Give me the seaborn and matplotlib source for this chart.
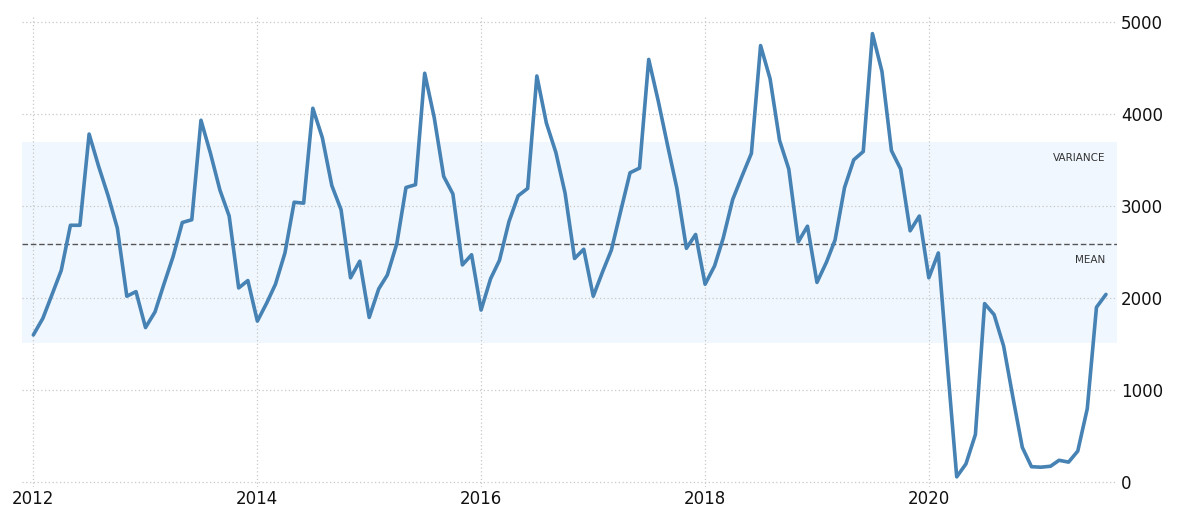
import matplotlib
matplotlib.use("Agg")
import matplotlib.pyplot as plt
import matplotlib.dates as mdates
import pandas as pd
import seaborn as sns

# monthly values, Jan 2012 .. Aug 2021
values_2012 = [1600, 1780, 2030, 2300, 2790, 2790, 3780, 3430, 3110, 2760, 2020, 2070]
values_2013 = [1680, 1850, 2140, 2450, 2820, 2850, 3930, 3570, 3170, 2890, 2110, 2190]
values_2014 = [1750, 1950, 2150, 2490, 3040, 3030, 4060, 3740, 3220, 2960, 2220, 2400]
values_2015 = [1790, 2100, 2250, 2590, 3200, 3230, 4440, 3960, 3320, 3130, 2360, 2470]
values_2016 = [1870, 2210, 2410, 2830, 3110, 3190, 4410, 3900, 3580, 3140, 2430, 2530]
values_2017 = [2020, 2290, 2520, 2950, 3360, 3410, 4590, 4140, 3650, 3190, 2540, 2690]
values_2018 = [2150, 2350, 2650, 3070, 3320, 3570, 4740, 4380, 3710, 3400, 2610, 2780]
values_2019 = [2170, 2390, 2630, 3200, 3500, 3590, 4870, 4460, 3600, 3400, 2730, 2890]
values_2020 = [2220, 2490, 1300, 60, 200, 520, 1940, 1820, 1480, 930, 380, 170]
values_2021 = [165, 175, 240, 220, 340, 800, 1900, 2040]

mean_value = 2590
variance_low = 1510
variance_high = 3690

year_ticks = ["2012", "2014", "2016", "2018", "2020"]
y_ticks = [0, 1000, 2000, 3000, 4000, 5000]

series = (values_2012 + values_2013 + values_2014 + values_2015 + values_2016
          + values_2017 + values_2018 + values_2019 + values_2020 + values_2021)
df = pd.DataFrame({
    "date": pd.date_range("2012-01-01", periods=len(series), freq="MS"),
    "value": series,
})

sns.set_theme(style="white")
plt.rcParams["font.family"] = ["DejaVu Sans"]

fig = plt.figure(figsize=(11.79, 5.13), dpi=100)
W, H = 1179, 513
ax = fig.add_axes([22 / W, 1 - 487 / H, (1117 - 22) / W, (487 - 17) / H])

ax.axhspan(variance_low, variance_high, color="#f0f7fe", zorder=0, lw=0)
ax.axhline(mean_value, color="#555555", lw=1.0, ls=(0, (4, 2)), zorder=1)

sns.lineplot(data=df, x="date", y="value", ax=ax, color="#4682b4", lw=2.6, zorder=3,
             solid_joinstyle="round", solid_capstyle="round")

ax.set_xlim(pd.Timestamp("2011-11-25"), pd.Timestamp("2021-09-06"))
ax.set_ylim(-50, 5050)

ax.set_xticks([pd.Timestamp(f"{y}-01-01") for y in year_ticks])
ax.xaxis.set_major_formatter(mdates.DateFormatter("%Y"))
ax.set_yticks(y_ticks)
ax.yaxis.tick_right()

ax.grid(True, color="#c8c8c8", ls=(0, (1, 2)), lw=0.9)
ax.set_axisbelow(True)
for s in ax.spines.values():
    s.set_visible(False)
ax.tick_params(axis="both", length=0, labelsize=12, colors="#111111")
ax.tick_params(axis="x", pad=2)
ax.tick_params(axis="y", pad=3)
ax.set_xlabel("")
ax.set_ylabel("")

ax.text(0.9895, 3520, "VARIANCE", transform=ax.get_yaxis_transform(),
        ha="right", va="center", fontsize=7.5, color="#333333")
ax.text(0.9895, 2410, "MEAN", transform=ax.get_yaxis_transform(),
        ha="right", va="center", fontsize=7.5, color="#333333")

fig.savefig("out.png", dpi=100)
